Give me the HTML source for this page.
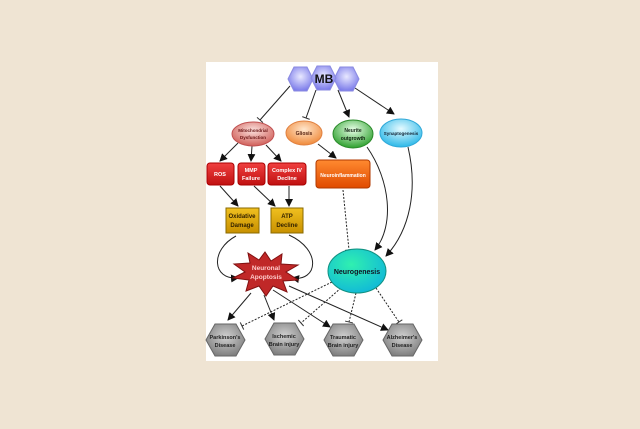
<!DOCTYPE html>
<html><head><style>
html,body{margin:0;padding:0;background:#efe4d3;width:640px;height:429px;overflow:hidden}
svg{position:absolute;left:0;top:0}
text{font-family:"Liberation Sans",sans-serif;font-weight:bold;text-anchor:middle}
</style></head><body>
<svg width="640" height="429" viewBox="0 0 640 429">
<defs>
<radialGradient id="hx" cx="50%" cy="40%" r="60%"><stop offset="0" stop-color="#e8e8ff"/><stop offset="1" stop-color="#7b7bea"/></radialGradient>
<radialGradient id="mi" cx="50%" cy="35%" r="65%"><stop offset="0" stop-color="#fbe0dc"/><stop offset="1" stop-color="#d0605a"/></radialGradient>
<radialGradient id="gl" cx="50%" cy="35%" r="65%"><stop offset="0" stop-color="#ffe6cc"/><stop offset="1" stop-color="#f08a3a"/></radialGradient>
<radialGradient id="ne" cx="50%" cy="35%" r="65%"><stop offset="0" stop-color="#e8ffe8"/><stop offset="1" stop-color="#2da02d"/></radialGradient>
<radialGradient id="sy" cx="50%" cy="35%" r="65%"><stop offset="0" stop-color="#e5faff"/><stop offset="1" stop-color="#2cb8e8"/></radialGradient>
<linearGradient id="rd" x1="0" y1="0" x2="0" y2="1"><stop offset="0" stop-color="#f04040"/><stop offset="1" stop-color="#c01010"/></linearGradient>
<linearGradient id="or" x1="0" y1="0" x2="0" y2="1"><stop offset="0" stop-color="#ff8a30"/><stop offset="1" stop-color="#e04a00"/></linearGradient>
<linearGradient id="yl" x1="0" y1="0" x2="0" y2="1"><stop offset="0" stop-color="#f0c020"/><stop offset="1" stop-color="#c89000"/></linearGradient>
<radialGradient id="ng" cx="40%" cy="35%" r="70%"><stop offset="0" stop-color="#30f0b0"/><stop offset="1" stop-color="#10b8d8"/></radialGradient>
<radialGradient id="gr" cx="50%" cy="40%" r="60%"><stop offset="0" stop-color="#d0d0d0"/><stop offset="1" stop-color="#808080"/></radialGradient>
<marker id="a" markerWidth="8" markerHeight="8" refX="7" refY="4" orient="auto" markerUnits="userSpaceOnUse"><path d="M0,0 L8,4 L0,8z" fill="#111"/></marker>
<marker id="t" markerWidth="2" markerHeight="8" refX="1" refY="4" orient="auto" markerUnits="userSpaceOnUse"><path d="M1,0 L1,8" stroke="#333" stroke-width="1"/></marker>
</defs>
<rect x="206" y="62" width="232" height="299" fill="#fff"/>
<g stroke="#222" stroke-width="1" fill="none">
<path d="M290,86 L260,120" marker-end="url(#t)"/>
<path d="M316,90 L306,118" marker-end="url(#t)"/>
<path d="M338,90 L349,117" marker-end="url(#a)"/>
<path d="M355,88 L394,114" marker-end="url(#a)"/>
<path d="M238,143 L220,161" marker-end="url(#a)"/>
<path d="M252,146 L251,161" marker-end="url(#a)"/>
<path d="M266,145 L281,161" marker-end="url(#a)"/>
<path d="M318,144 L336,158" marker-end="url(#a)"/>
<path d="M220,186 L238,206" marker-end="url(#a)"/>
<path d="M254,186 L275,206" marker-end="url(#a)"/>
<path d="M289,186 L289,206" marker-end="url(#a)"/>
<path d="M343,190 L349,250" stroke-dasharray="2,1.5" marker-end="url(#t)"/>
<path d="M367,147 C390,180 395,225 375,250" marker-end="url(#a)"/>
<path d="M408,147 C418,190 410,230 386,256" marker-end="url(#a)"/>
<path d="M236,236 C210,250 212,280 238,278" marker-end="url(#a)"/>
<path d="M289,235 C322,250 318,282 292,278" marker-end="url(#a)"/>
<path d="M251,293 L228,320" marker-end="url(#a)"/>
<path d="M264,295 L274,320" marker-end="url(#a)"/>
<path d="M273,290 L330,327" marker-end="url(#a)"/>
<path d="M289,286 L388,330" marker-end="url(#a)"/>
<path d="M332,282 L242,326" stroke-dasharray="2,1.5" marker-end="url(#t)"/>
<path d="M341,288 L301,323" stroke-dasharray="2,1.5" marker-end="url(#t)"/>
<path d="M356,293 L349,322" stroke-dasharray="2,1.5" marker-end="url(#t)"/>
<path d="M376,288 L399,322" stroke-dasharray="2,1.5" marker-end="url(#t)"/>
</g>
<g fill="url(#hx)" stroke="#8a8ae0">
<polygon points="288,79 294,67 307,67 313,79 307,91 294,91"/>
<polygon points="334,79 340,67 353,67 359,79 353,91 340,91"/>
<polygon points="311,78 317,66 330,66 336,78 330,90 317,90"/>
</g>
<text x="324" y="83" font-size="12" fill="#111">MB</text>
<ellipse cx="253" cy="134" rx="21" ry="12" fill="url(#mi)" stroke="#c05050"/>
<text x="253" y="132" font-size="4.5" fill="#611">Mitochondrial</text><text x="253" y="139" font-size="4.5" fill="#611">Dysfunction</text>
<ellipse cx="304" cy="133" rx="18" ry="12" fill="url(#gl)" stroke="#e08040"/>
<text x="304" y="135" font-size="5" fill="#521">Gliosis</text>
<ellipse cx="353" cy="134" rx="20" ry="14" fill="url(#ne)" stroke="#2a8a2a"/>
<text x="353" y="132" font-size="5" fill="#121">Neurite</text><text x="353" y="140" font-size="5" fill="#121">outgrowth</text>
<ellipse cx="401" cy="133" rx="21" ry="14" fill="url(#sy)" stroke="#30a8d8"/>
<text x="401" y="135" font-size="4.5" fill="#123">Synaptogenesis</text>
<rect x="207" y="163" width="27" height="22" rx="3" fill="url(#rd)" stroke="#a00"/>
<text x="220" y="176" font-size="5.5" fill="#fff">ROS</text>
<rect x="238" y="163" width="27" height="22" rx="3" fill="url(#rd)" stroke="#a00"/>
<text x="251" y="172" font-size="5.5" fill="#fff">MMP</text><text x="251" y="180" font-size="5.5" fill="#fff">Failure</text>
<rect x="268" y="163" width="38" height="22" rx="3" fill="url(#rd)" stroke="#a00"/>
<text x="287" y="172" font-size="5.5" fill="#fff">Complex IV</text><text x="287" y="180" font-size="5.5" fill="#fff">Decline</text>
<rect x="316" y="160" width="54" height="28" rx="3" fill="url(#or)" stroke="#b03a00"/>
<text x="343" y="177" font-size="5" fill="#fff">Neuroinflammation</text>
<rect x="226" y="208" width="33" height="25" fill="url(#yl)" stroke="#8a6a00"/>
<text x="242" y="218" font-size="6" fill="#320">Oxidative</text><text x="242" y="227" font-size="6" fill="#320">Damage</text>
<rect x="271" y="208" width="32" height="25" fill="url(#yl)" stroke="#8a6a00"/>
<text x="287" y="218" font-size="6" fill="#320">ATP</text><text x="287" y="227" font-size="6" fill="#320">Decline</text>
<polygon points="265,252 271,261 282,254 281,264 298,265 286,272 298,280 283,281 287,292 273,286 266,296 259,286 246,291 249,280 233,278 245,272 234,264 250,263 248,253 259,260" fill="#c02828" stroke="#801010"/>
<text x="266" y="270" font-size="6.5" fill="#fcc">Neuronal</text><text x="266" y="279" font-size="6.5" fill="#fcc">Apoptosis</text>
<ellipse cx="357" cy="271" rx="29" ry="22" fill="url(#ng)" stroke="#109080"/>
<text x="357" y="274" font-size="7" fill="#112">Neurogenesis</text>
<g fill="url(#gr)" stroke="#666">
<polygon points="206,340 215,324 236,324 245,340 236,356 215,356"/>
<polygon points="265,339 274,323 295,323 304,339 295,355 274,355"/>
<polygon points="324,340 333,324 354,324 363,340 354,356 333,356"/>
<polygon points="383,340 392,324 413,324 422,340 413,356 392,356"/>
</g>
<g font-size="5.5" fill="#222">
<text x="225" y="339">Parkinson's</text><text x="225" y="347">Disease</text>
<text x="284" y="338">Ischemic</text><text x="284" y="346">Brain injury</text>
<text x="343" y="339">Traumatic</text><text x="343" y="347">Brain injury</text>
<text x="402" y="339">Alzheimer's</text><text x="402" y="347">Disease</text>
</g>
</svg>
</body></html>
